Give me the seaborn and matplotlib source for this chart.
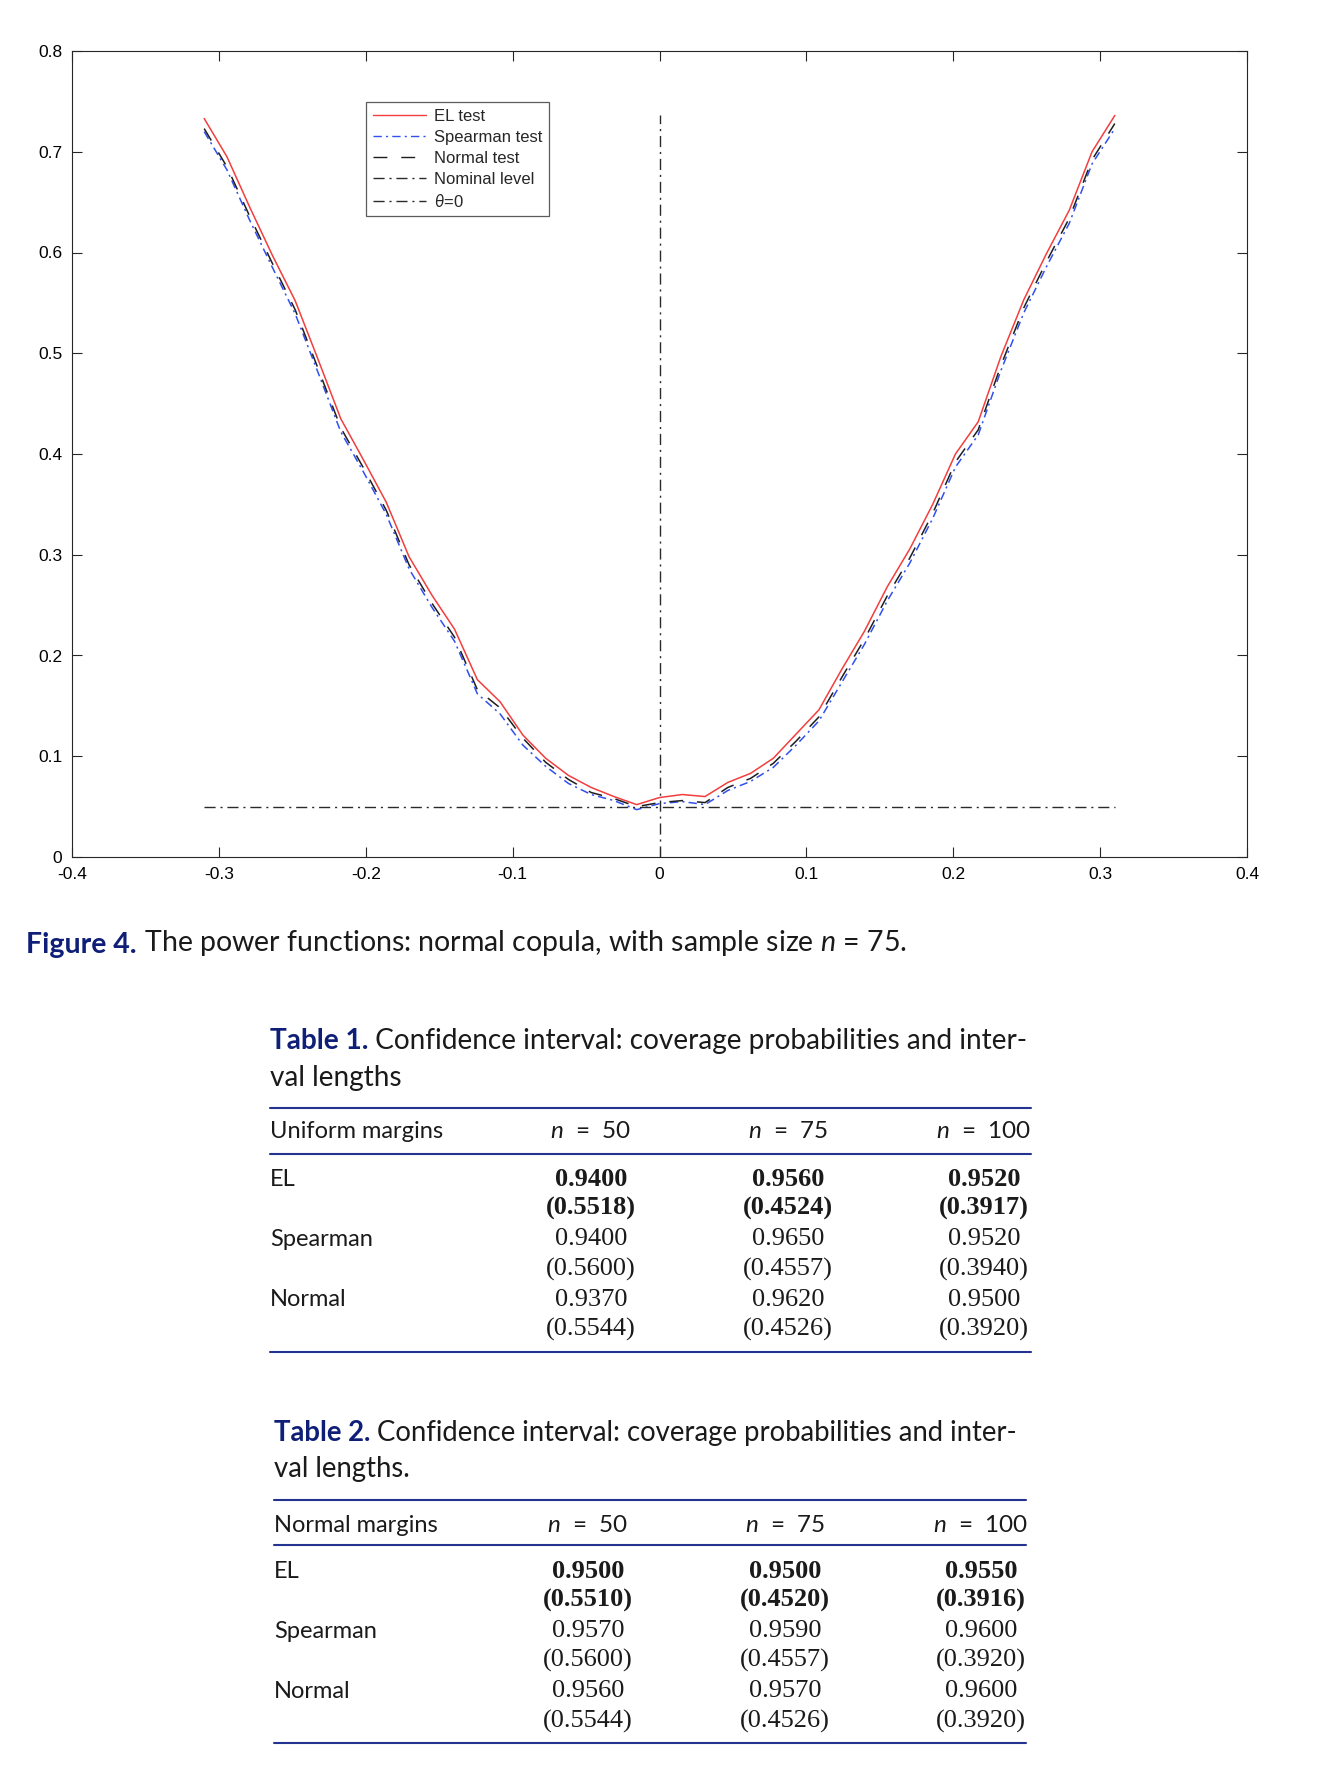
import numpy as np
import pandas as pd
import seaborn as sns
import matplotlib
matplotlib.use("Agg")
import matplotlib.pyplot as plt
from matplotlib.lines import Line2D

# power curves (normal copula, n = 75)
theta = np.round(np.linspace(-0.31, 0.31, 41), 4)
el_test = [0.733, 0.695, 0.645, 0.597, 0.552, 0.494, 0.435, 0.394, 0.352, 0.298,
           0.260, 0.226, 0.176, 0.154, 0.121, 0.098, 0.081, 0.069, 0.060, 0.052,
           0.059, 0.062, 0.060, 0.074, 0.083, 0.098, 0.122, 0.146, 0.186, 0.224,
           0.268, 0.306, 0.350, 0.400, 0.432, 0.497, 0.553, 0.599, 0.642, 0.700, 0.736]
spearman_test = [0.720, 0.682, 0.632, 0.585, 0.539, 0.481, 0.422, 0.382, 0.340, 0.286,
                 0.248, 0.214, 0.162, 0.142, 0.111, 0.090, 0.073, 0.062, 0.056, 0.047,
                 0.053, 0.055, 0.052, 0.066, 0.075, 0.089, 0.111, 0.135, 0.173, 0.211,
                 0.254, 0.292, 0.336, 0.387, 0.419, 0.483, 0.540, 0.586, 0.629, 0.688, 0.723]
normal_test = [0.723, 0.685, 0.636, 0.589, 0.543, 0.485, 0.426, 0.386, 0.344, 0.290,
               0.252, 0.218, 0.166, 0.148, 0.118, 0.094, 0.077, 0.064, 0.058, 0.050,
               0.054, 0.056, 0.054, 0.069, 0.078, 0.093, 0.115, 0.139, 0.178, 0.216,
               0.259, 0.297, 0.341, 0.392, 0.424, 0.488, 0.545, 0.591, 0.634, 0.692, 0.728]
nominal_level = 0.05

# tables
sample_sizes = [50, 75, 100]
methods = ["EL", "Spearman", "Normal"]
uniform_coverage = [[0.9400, 0.9560, 0.9520], [0.9400, 0.9650, 0.9520], [0.9370, 0.9620, 0.9500]]
uniform_length = [[0.5518, 0.4524, 0.3917], [0.5600, 0.4557, 0.3940], [0.5544, 0.4526, 0.3920]]
normal_coverage = [[0.9500, 0.9500, 0.9550], [0.9570, 0.9590, 0.9600], [0.9560, 0.9570, 0.9600]]
normal_length = [[0.5510, 0.4520, 0.3916], [0.5600, 0.4557, 0.3920], [0.5544, 0.4526, 0.3920]]

sns.set_theme(style="ticks")
plt.rcParams["font.family"] = ["Liberation Sans", "DejaVu Sans"]
plt.rcParams["axes.unicode_minus"] = False
plt.rcParams["lines.scale_dashes"] = False
plt.rcParams["mathtext.fontset"] = "custom"
plt.rcParams["mathtext.rm"] = "Lato"
plt.rcParams["mathtext.it"] = "Lato:italic"
plt.rcParams["mathtext.bf"] = "Lato:bold"

W, H = 1320, 1780
fig = plt.figure(figsize=(W / 100, H / 100), dpi=100)
fig.patch.set_facecolor("white")


def fx(px):
    return px / W


def fy(py):
    return 1 - py / H


ax = fig.add_axes([fx(72), fy(857), fx(1247) - fx(72), fy(51) - fy(857)])

df = pd.DataFrame({"theta": theta, "EL": el_test, "Spearman": spearman_test, "Normal": normal_test})

sns.lineplot(data=df, x="theta", y="EL", ax=ax, color="#f23e3e", lw=1.1, label="EL test")
sns.lineplot(data=df, x="theta", y="Spearman", ax=ax, color="#3050f0", lw=1.1,
             dashes=False, label="Spearman test").lines[-1].set_dashes((6, 3, 1.5, 3))
sns.lineplot(data=df, x="theta", y="Normal", ax=ax, color="#1e1e1e", lw=1.1,
             label="Normal test").lines[-1].set_dashes((10, 10))
ax.hlines(nominal_level, theta[0], theta[-1], color="#2a2a2a", lw=1.0,
          linestyles=[(0, (8, 3.5, 1.5, 3.5))], label="Nominal level")
ax.vlines(0, 0, max(el_test), color="#2a2a2a", lw=1.0,
          linestyles=[(0, (8, 3.5, 1.5, 3.5))], label=r"$\theta$=0")

ax.set_xlim(-0.4, 0.4)
ax.set_ylim(0, 0.8)
ax.set_xticks(np.arange(-4, 5) / 10)
ax.set_yticks(np.arange(0, 9) / 10)
ax.set_xticklabels(["%g" % v for v in np.arange(-4, 5) / 10])
ax.set_yticklabels(["%g" % v for v in np.arange(0, 9) / 10])
ax.set_xlabel("")
ax.set_ylabel("")
ax.tick_params(direction="in", length=7, width=0.8, top=True, right=True,
               labelsize=12.5, colors="#262626", labelcolor="black", pad=7)
for s in ax.spines.values():
    s.set_visible(True)
    s.set_color("#262626")
    s.set_linewidth(0.8)

leg = ax.legend(loc="upper left", bbox_to_anchor=((366 - 72) / 1175, (857 - 102) / 806),
                borderaxespad=0, fontsize=12, frameon=True, fancybox=False,
                handlelength=3.2, handletextpad=0.45, labelspacing=0.36,
                borderpad=0.4)
leg.get_frame().set_edgecolor("#333333")
leg.get_frame().set_linewidth(0.9)
for h in leg.get_lines():
    h.set_linewidth(1.0)

navy = "#0f1f78"
rule_col = "#24338f"
sans = ["Lato", "DejaVu Sans"]
serif = ["Liberation Serif", "DejaVu Serif"]


def label_line(x, y, head, rest, size):
    t = fig.text(fx(x), fy(y), head, family=sans, weight="bold", color=navy,
                 fontsize=size, ha="left", va="center")
    ax.annotate(rest, xy=(1, 0), xycoords=t, ha="left", va="bottom",
                family=sans, fontsize=size, color="#1a1a1a", annotation_clip=False)


# figure caption
label_line(26, 945, "Figure 4.", " The power functions: normal copula, with sample size $n$ = 75.", 20.5)


def draw_table(num, title2, margin_name, coverage, length, x0, x1, ys, cols, tsize):
    label_line(x0, ys["t1"], "Table %d." % num,
               " Confidence interval: coverage probabilities and inter-", tsize)
    fig.text(fx(x0), fy(ys["t2"]), title2, family=sans, fontsize=tsize,
             color="#1a1a1a", ha="left", va="center")
    for ry in ys["rules"]:
        fig.add_artist(Line2D([fx(x0), fx(x1)], [fy(ry), fy(ry)], color=rule_col,
                              lw=1.5, transform=fig.transFigure))
    fig.text(fx(x0), fy(ys["head"]), margin_name, family=sans, fontsize=17,
             color="#1a1a1a", ha="left", va="center")
    for c, n in zip(cols, sample_sizes):
        fig.text(fx(c), fy(ys["head"]), "$n$  =  %d" % n, family=sans, fontsize=17.5,
                 color="#1a1a1a", ha="center", va="center")
    for i, m in enumerate(methods):
        y_cov = ys["rows"][2 * i]
        y_len = ys["rows"][2 * i + 1]
        fig.text(fx(x0), fy(y_cov), m, family=sans, fontsize=17, color="#1a1a1a",
                 ha="left", va="center")
        w = "bold" if m == "EL" else "normal"
        for j, c in enumerate(cols):
            fig.text(fx(c), fy(y_cov), "%.4f" % coverage[i][j], family=serif,
                     weight=w, fontsize=19, color="#1a1a1a", ha="center", va="center")
            fig.text(fx(c), fy(y_len), "(%.4f)" % length[i][j], family=serif,
                     weight=w, fontsize=19, color="#1a1a1a", ha="center", va="center")


draw_table(1, "val lengths", "Uniform margins", uniform_coverage, uniform_length,
           270, 1031,
           {"t1": 1041, "t2": 1078, "rules": [1108, 1154, 1352], "head": 1132,
            "rows": [1179, 1208, 1239, 1269, 1300, 1329]},
           [591, 788, 984], 20.2)
draw_table(2, "val lengths.", "Normal margins", normal_coverage, normal_length,
           274, 1026,
           {"t1": 1433, "t2": 1469, "rules": [1500, 1545, 1743], "head": 1525,
            "rows": [1572, 1600, 1631, 1660, 1691, 1721]},
           [588, 785, 981], 19.8)

fig.savefig("out.png", dpi=100, facecolor="white")
